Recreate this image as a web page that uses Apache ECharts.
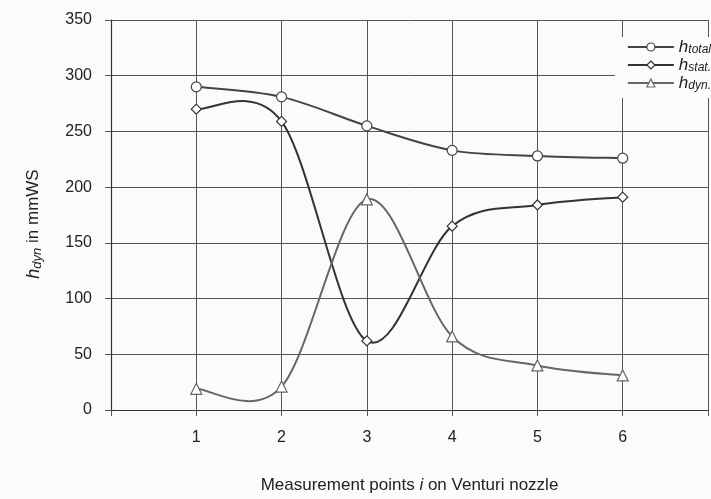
<!DOCTYPE html>
<html><head><meta charset="utf-8">
<script src="https://cdn.jsdelivr.net/npm/echarts@6/dist/echarts.min.js"></script>
<style>html,body{margin:0;padding:0;background:#fbfbfb}#c{width:711px;height:499px}</style>
</head><body><div id="c"></div>
<script>
const points = [1, 2, 3, 4, 5, 6];
const hTotal = [290, 281, 255, 233, 228, 226];
const hStat = [270, 259, 62, 165, 184, 191];
const hDyn = [19, 21, 189, 66, 40, 31];
const xTicks = ['1', '2', '3', '4', '5', '6'];
const yTicks = [0, 50, 100, 150, 200, 250, 300, 350];

const subs = {h_total: 'total', h_stat: 'stat.', h_dyn: 'dyn.'};
const font = '"Liberation Sans", Arial, sans-serif';
const pair = (arr) => points.map((p, i) => [p, arr[i]]);

// Spline through the data points (cardinal spline, as in spreadsheet smoothed lines),
// computed in pixel space from api.coord.
function curveSeries(data, color) {
  return {
    type: 'custom', data: pair(data), silent: true, z: 2,
    renderItem: (params, api) => {
      if (params.dataIndex !== 0) return;
      const P = data.map((v, i) => api.coord([points[i], v]));
      let d = 'M' + P[0][0] + ' ' + P[0][1];
      for (let i = 0; i < P.length - 1; i++) {
        const p0 = P[Math.max(i - 1, 0)], p1 = P[i], p2 = P[i + 1], p3 = P[Math.min(i + 2, P.length - 1)];
        const c1 = [p1[0] + (p2[0] - p0[0]) / 6, p1[1] + (p2[1] - p0[1]) / 6];
        const c2 = [p2[0] - (p3[0] - p1[0]) / 6, p2[1] - (p3[1] - p1[1]) / 6];
        d += ' C' + c1.join(' ') + ' ' + c2.join(' ') + ' ' + p2.join(' ');
      }
      return {type: 'path', shape: {pathData: d},
        style: {fill: 'none', stroke: color, lineWidth: 2}};
    }
  };
}

const mk = (name, data, sym, size, color) => ({
  name, type: 'line', data: pair(data),
  symbol: sym, symbolSize: size, showSymbol: true,
  lineStyle: {color, width: 2, opacity: 0},
  itemStyle: {color: '#fff', borderColor: color, borderWidth: 1.2},
  z: 3
});
const legendItem = (name, color) => ({name, lineStyle: {color, width: 2, opacity: 1},
  itemStyle: {color: '#fff', borderColor: color, borderWidth: 1.2}});

const chart = echarts.init(document.getElementById('c'));
chart.setOption({
  backgroundColor: '#fbfbfb',
  animation: false,
  grid: {left: 111, right: 0, top: 20, bottom: 89},
  xAxis: {
    type: 'value', min: 0, max: 7, interval: 1,
    axisLine: {lineStyle: {color: '#333', width: 1.2}},
    axisTick: {show: true, length: 6, lineStyle: {color: '#555'}},
    axisLabel: {color: '#222', fontFamily: font, fontSize: 16, margin: 20,
      formatter: v => (v >= 1 && v <= 6) ? xTicks[v - 1] : ''},
    splitLine: {show: true, lineStyle: {color: '#555', width: 1}},
    name: '{a|Measurement points }{i|i}{a| on Venturi nozzle}',
    nameLocation: 'middle', nameGap: 67,
    nameTextStyle: {rich: {a: {fontFamily: font, fontSize: 17, color: '#222'},
      i: {fontFamily: font, fontSize: 17, color: '#222', fontStyle: 'italic'}}}
  },
  yAxis: {
    type: 'value', min: 0, max: 350, interval: 50,
    axisLine: {show: true, lineStyle: {color: '#333', width: 1.2}},
    axisTick: {show: true, length: 6, lineStyle: {color: '#555'}},
    axisLabel: {color: '#222', fontFamily: font, fontSize: 16, margin: 19,
      formatter: v => String(yTicks[yTicks.indexOf(v)])},
    splitLine: {show: true, lineStyle: {color: '#555', width: 1}},
    name: '{i|h}{s|dyn}{a| in mmWS}',
    nameLocation: 'middle', nameGap: 67, nameRotate: 90,
    nameTextStyle: {padding: [0, 18, 0, 0], rich: {a: {fontFamily: font, fontSize: 17, color: '#222'},
      i: {fontFamily: font, fontSize: 18, color: '#222', fontStyle: 'italic'},
      s: {fontFamily: font, fontSize: 13, color: '#222', fontStyle: 'italic', padding: [8, 0, 0, 0]}}}
  },
  legend: {
    right: 0, top: 37, orient: 'vertical', itemGap: 0,
    itemWidth: 46, itemHeight: 10,
    data: [legendItem('h_total', '#444'), legendItem('h_stat', '#333'), legendItem('h_dyn', '#666')],
    backgroundColor: '#fbfbfb', padding: [1, 0, 6, 12],
    formatter: n => '{i|h}{s|' + subs[n] + '}',
    textStyle: {rich: {
      i: {fontFamily: font, fontSize: 17, color: '#222', fontStyle: 'italic', lineHeight: 18},
      s: {fontFamily: font, fontSize: 12, color: '#222', fontStyle: 'italic', lineHeight: 18, padding: [6, 0, 0, 0]}}}
  },
  series: [
    curveSeries(hTotal, '#444'),
    curveSeries(hStat, '#333'),
    curveSeries(hDyn, '#666'),
    mk('h_total', hTotal, 'circle', 10, '#444'),
    mk('h_stat', hStat, 'diamond', 10, '#333'),
    mk('h_dyn', hDyn, 'triangle', 11, '#666')
  ]
});
</script></body></html>
